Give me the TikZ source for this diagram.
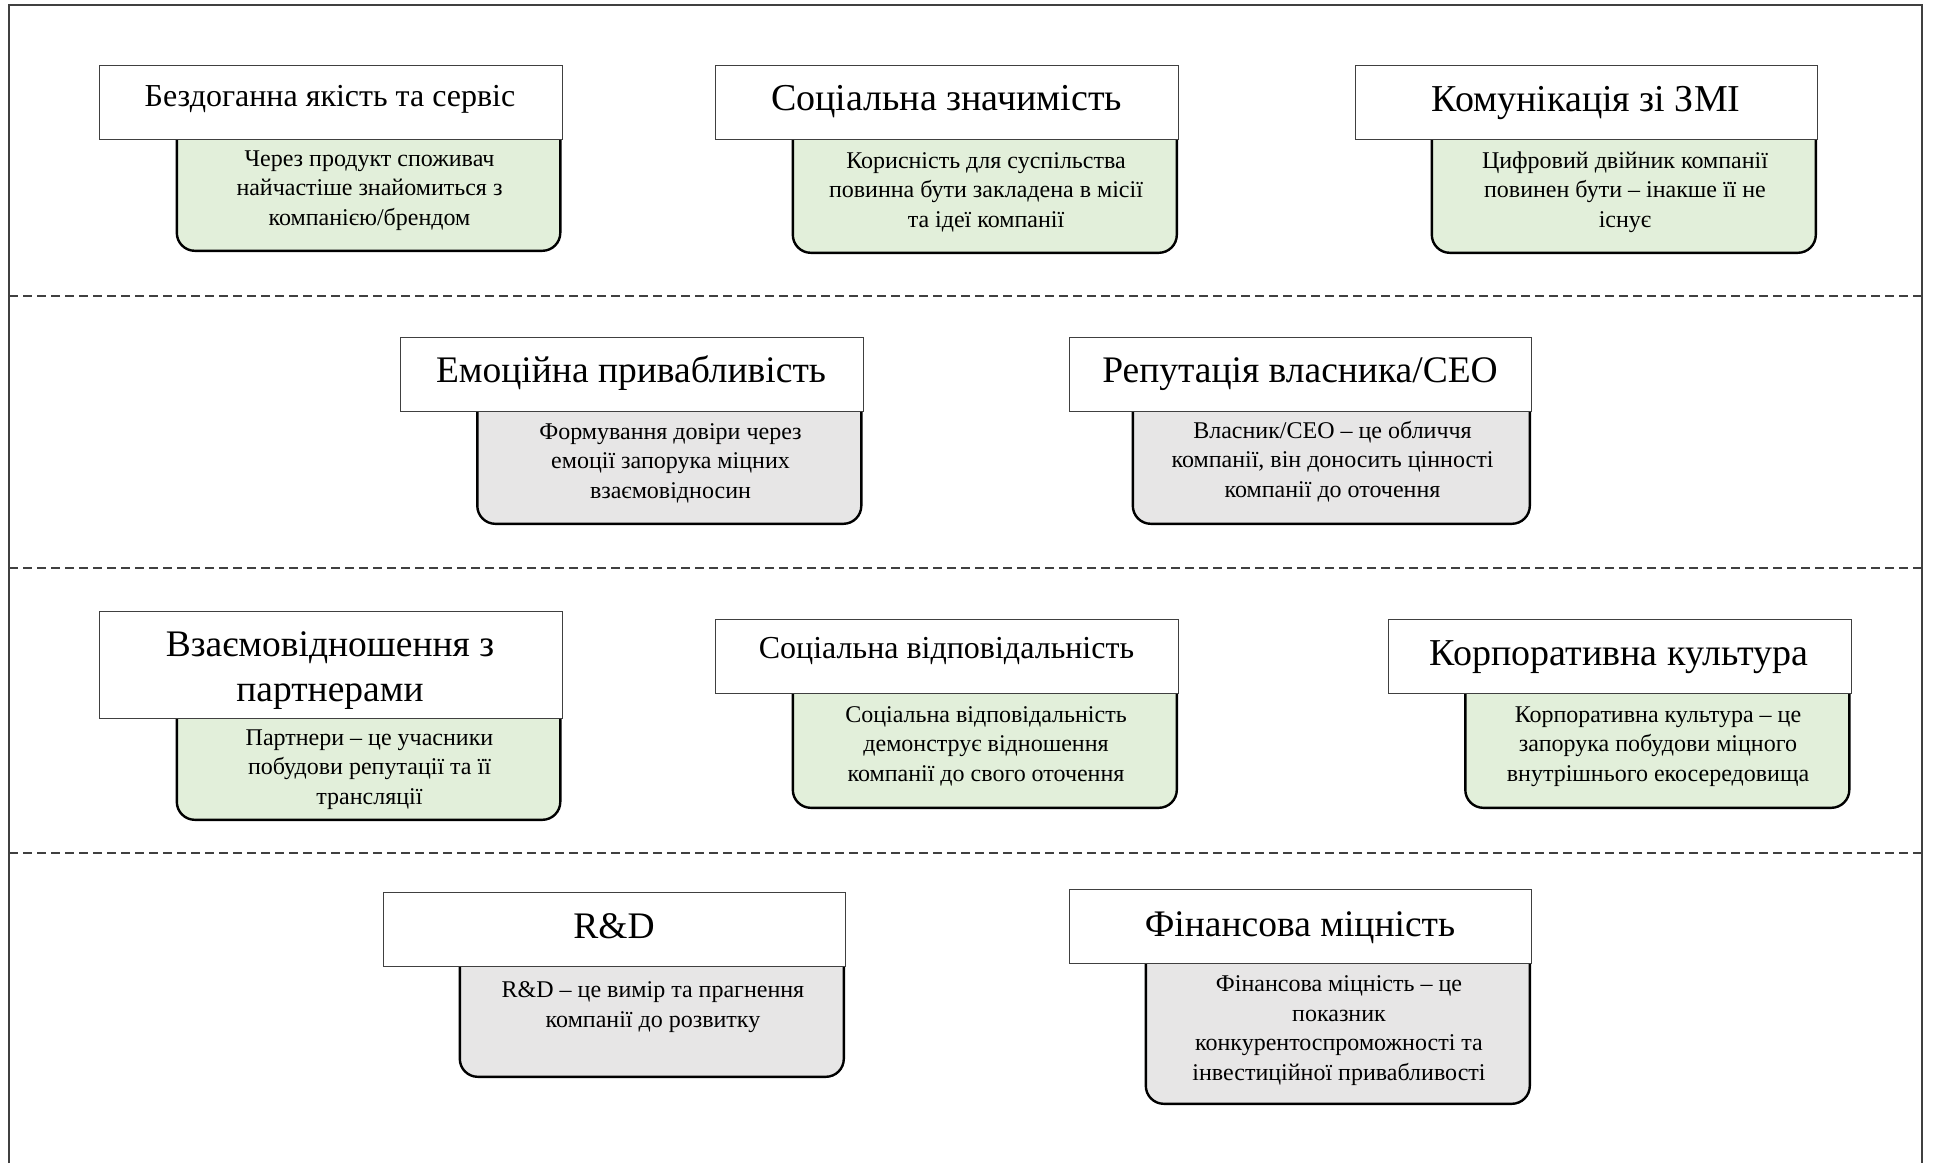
\documentclass[tikz,border=0pt]{standalone}
\usepackage{fontspec}
\setmainfont{Liberation Serif}
\definecolor{cardgreen}{HTML}{E2EFDA}
\definecolor{cardgray}{HTML}{E7E6E6}
\definecolor{ruleline}{HTML}{404040}

\begin{document}
\begin{tikzpicture}[x=1pt,y=-1pt,
  titlebox/.style={draw=ruleline, line width=1.3pt, fill=white, rectangle,
    inner sep=0pt, anchor=north west, minimum width=462.5pt, minimum height=74pt},
  descbox/.style={draw=black, line width=2.4pt, rounded corners=18pt,
    inner sep=0pt, anchor=south east},
  greenbox/.style={descbox, fill=cardgreen},
  graybox/.style={descbox, fill=cardgray},
  % multi-line texts are placed by the baseline of their last line
  titletext/.style={inner sep=0pt, anchor=base, font=\fontsize{37.5}{45}\selectfont, align=center},
  desctext/.style={inner sep=0pt, anchor=base, font=\fontsize{24}{29.5}\selectfont, align=center},
  divider/.style={draw=ruleline, line width=1.5pt, dash pattern=on 9pt off 5pt},
  frameline/.style={draw=ruleline, line width=1.5pt}
]
\useasboundingbox (0,0) rectangle (1934,1163);

% outer frame (open at the bottom)
\coordinate (fBL) at (9,1163);
\coordinate (fTL) at (9,5);
\coordinate (fTR) at (1922,5);
\coordinate (fBR) at (1922,1163);
\draw[frameline] (fBL) -- (fTL) -- (fTR) -- (fBR);

% horizontal dividers between the rows
\coordinate (d1l) at (9,296);  \coordinate (d1r) at (1922,296);
\coordinate (d2l) at (9,568);  \coordinate (d2r) at (1922,568);
\coordinate (d3l) at (9,853);  \coordinate (d3r) at (1922,853);
\draw[divider] (d1l) -- (d1r);
\draw[divider] (d2l) -- (d2r);
\draw[divider] (d3l) -- (d3r);

% ---------- row 1 ----------
\node[greenbox, minimum width=383.5pt, minimum height=133pt] (qualityD) at (561.5,252) {};
\node[titlebox] (qualityT) at (99,65) {};
\node[titletext, font=\fontsize{32}{40}\selectfont] (qualityL) at (330,106) {Бездоганна якість та сервіс};
\node[desctext] (qualityX) at (369.5,225) {Через продукт споживач\\найчастіше знайомиться з\\компанією/брендом};

\node[greenbox, minimum width=384pt, minimum height=135pt] (socialD) at (1178,254) {};
\node[titlebox] (socialT) at (715,65) {};
\node[titletext, font=\fontsize{38}{45}\selectfont] (socialL) at (946.5,110) {Соціальна значимість};
\node[desctext] (socialX) at (986,227) {Корисність для суспільства\\повинна бути закладена в місії\\та ідеї компанії};

\node[greenbox, minimum width=384pt, minimum height=135pt] (mediaD) at (1817,254) {};
\node[titlebox] (mediaT) at (1354.5,65) {};
\node[titletext, font=\fontsize{38}{45}\selectfont] (mediaL) at (1586,111) {Комунікація зі ЗМІ};
\node[desctext] (mediaX) at (1625,227) {Цифровий двійник компанії\\повинен бути -- інакше її не\\існує};

% ---------- row 2 ----------
\node[graybox, minimum width=384pt, minimum height=134pt] (emotionD) at (862.5,525) {};
\node[titlebox] (emotionT) at (400,337) {};
\node[titletext] (emotionL) at (631,382) {Емоційна привабливість};
\node[desctext] (emotionX) at (670.5,498) {Формування довіри через\\емоції запорука міцних\\взаємовідносин};

\node[graybox, minimum width=397pt, minimum height=134pt] (ceoD) at (1531,525) {};
\node[titlebox] (ceoT) at (1068.5,337) {};
\node[titletext] (ceoL) at (1300,382) {Репутація власника/CEO};
\node[desctext] (ceoX) at (1332.5,497) {Власник/CEO -- це обличчя\\компанії, він доносить цінності\\компанії до оточення};

% ---------- row 3 ----------
\node[greenbox, minimum width=383.5pt, minimum height=123pt] (partnerD) at (561.5,821) {};
\node[titlebox, minimum height=107pt] (partnerT) at (99,611) {};
\node[titletext, font=\fontsize{37.5}{45}\selectfont] (partnerL) at (330,701) {Взаємовідношення з\\партнерами};
\node[desctext] (partnerX) at (369.5,804) {Партнери -- це учасники\\побудови репутації та її\\трансляції};

\node[greenbox, minimum width=384pt, minimum height=137pt] (respD) at (1178,809) {};
\node[titlebox] (respT) at (715,619) {};
\node[titletext, font=\fontsize{32}{40}\selectfont] (respL) at (946.5,658) {Соціальна відповідальність};
\node[desctext] (respX) at (986,781) {Соціальна відповідальність\\демонструє відношення\\компанії до свого оточення};

\node[greenbox, minimum width=384pt, minimum height=137pt] (cultureD) at (1850.5,809) {};
\node[titlebox] (cultureT) at (1388,619) {};
\node[titletext, font=\fontsize{38}{45}\selectfont] (cultureL) at (1619,665) {Корпоративна культура};
\node[desctext] (cultureX) at (1658,781) {Корпоративна культура -- це\\запорука побудови міцного\\внутрішнього екосередовища};

% ---------- row 4 ----------
\node[graybox, minimum width=384pt, minimum height=132pt] (rndD) at (845,1078) {};
\node[titlebox] (rndT) at (382.5,892) {};
\node[titletext] (rndL) at (614,938) {R\&D};
\node[desctext] (rndX) at (653,1027) {R\&D -- це вимір та прагнення\\компанії до розвитку};

\node[graybox, minimum width=384pt, minimum height=162pt] (financeD) at (1531,1105) {};
\node[titlebox] (financeT) at (1068.5,889) {};
\node[titletext] (financeL) at (1300,936) {Фінансова міцність};
\node[desctext] (financeX) at (1339,1080) {Фінансова міцність -- це\\показник\\конкурентоспроможності та\\інвестиційної привабливості};
\end{tikzpicture}
\end{document}
